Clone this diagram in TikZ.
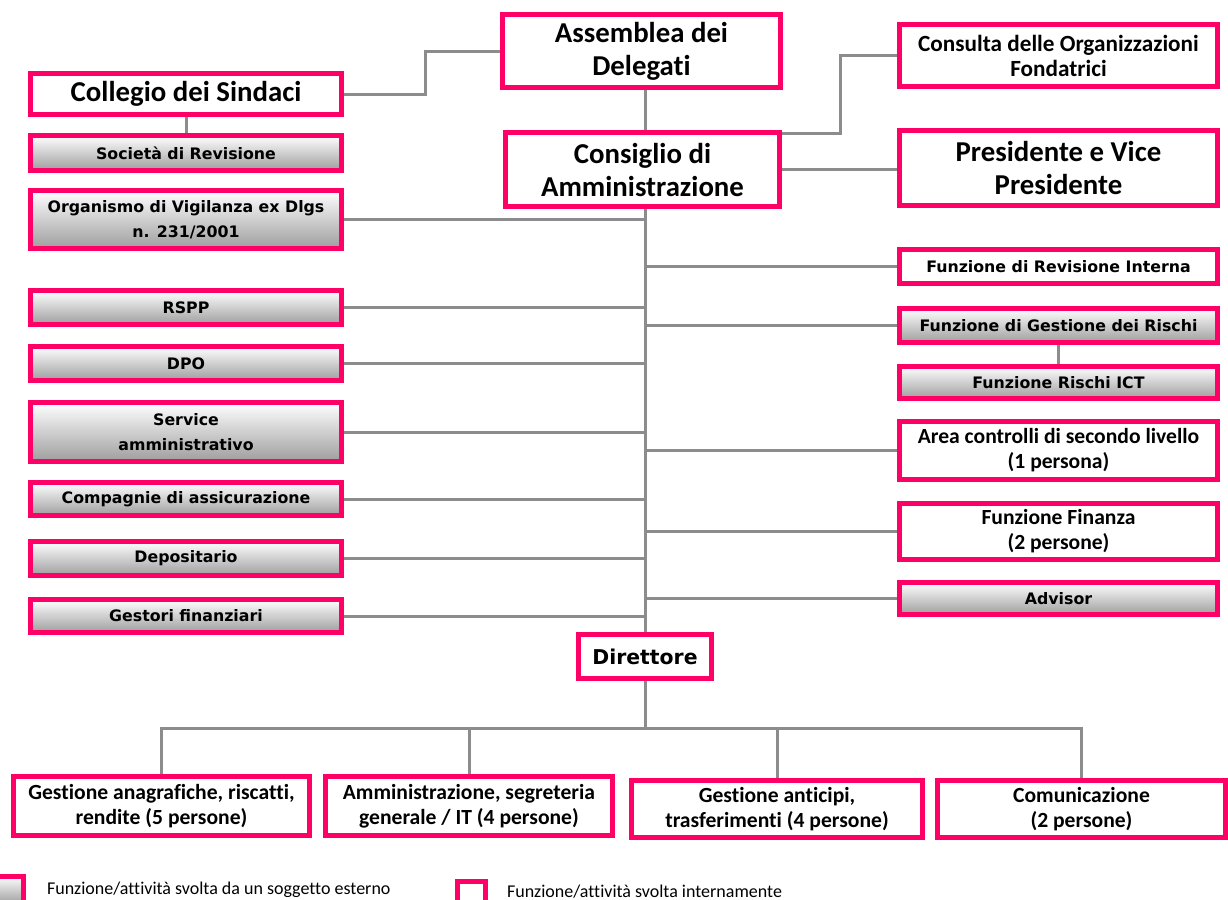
\documentclass[tikz,border=0pt]{standalone}
\usepackage{fontspec}
\newfontfamily\calfont[Ligatures=NoCommon]{Carlito}
\newfontfamily\tahfont{DejaVu Sans}
\definecolor{pinkc}{RGB}{255,0,102}
\definecolor{linec}{RGB}{140,140,140}
\tikzset{
  box/.style={draw=pinkc, line width=2.5pt, align=center, inner sep=1pt, text=black},
  intbox/.style={box, fill=white},
  extbox/.style={box, top color=white, bottom color=black!38},
  lcol/.style={minimum width=155.5pt},
  rcol/.style={minimum width=159pt},
  big/.style={font=\calfont\bfseries\fontsize{14.4}{16.5}\selectfont},
  mid/.style={font=\calfont\bfseries\fontsize{10.8}{12.5}\selectfont},
  small/.style={font=\tahfont\bfseries\fontsize{7.9}{12.5}\selectfont},
  link/.style={draw=linec, line width=1.5pt},
}
\begin{document}
\begin{tikzpicture}[x=0.5pt, y=-0.5pt]
    \useasboundingbox (0,0) rectangle (1228,900);

    % vertice
    \node[intbox, big, minimum width=139pt, minimum height=36.5pt] (asm) at (641.5,51) {Assemblea dei\\Delegati};
    \node[intbox, big, minimum width=137pt, minimum height=37pt] (cda) at (642.5,169.5) {Consiglio di\\Amministrazione};
    \node[intbox, big, lcol, minimum height=20.5pt] (col) at (186,94) {Collegio dei Sindaci};
    \node[extbox, small, lcol, minimum height=17.5pt] (soc) at (186,153) {Società di Revisione};
    \node[intbox, font=\calfont\bfseries\fontsize{11.6}{12.5}\selectfont, rcol, minimum height=31pt] (cons) at (1058.5,55.5) {Consulta delle Organizzazioni\\Fondatrici};
    \node[intbox, big, rcol, minimum height=37.5pt] (pres) at (1058.5,168) {Presidente e Vice\\Presidente};

    % colonna sinistra
    \node[extbox, small, lcol, minimum height=29pt] (odv) at (186,219.5) {Organismo di Vigilanza ex Dlgs\\n. 231/2001};
    \node[extbox, small, lcol, minimum height=17pt] (rspp) at (186,307.5) {RSPP};
    \node[extbox, small, lcol, minimum height=17pt] (dpo) at (186,363.5) {DPO};
    \node[extbox, small, lcol, minimum height=29.5pt] (serv) at (186,432) {Service\\amministrativo};
    \node[extbox, small, lcol, minimum height=16.5pt] (comp) at (186,499) {Compagnie di assicurazione};
    \node[extbox, small, lcol, minimum height=17pt] (dep) at (186,558.5) {Depositario};
    \node[extbox, small, lcol, minimum height=16.5pt] (gest) at (186,616) {Gestori finanziari};

    % colonna destra
    \node[intbox, small, rcol, minimum height=17pt] (rev) at (1058.5,266.5) {Funzione di Revisione Interna};
    \node[extbox, small, rcol, minimum height=17pt] (risk) at (1058.5,325.5) {Funzione di Gestione dei Rischi};
    \node[extbox, small, rcol, minimum height=16pt] (ict) at (1058.5,382.5) {Funzione Rischi ICT};
    \node[intbox, mid, rcol, minimum height=29pt] (area) at (1058.5,450.5) {Area controlli di secondo livello\\(1 persona)};
    \node[intbox, mid, rcol, minimum height=28pt] (fin) at (1058.5,531.5) {Funzione Finanza\\(2 persone)};
    \node[extbox, small, rcol, minimum height=16pt] (adv) at (1058.5,598.5) {Advisor};

    % direzione
    \node[intbox, font=\tahfont\bfseries\fontsize{10.2}{12}\selectfont, minimum width=66.5pt, minimum height=22pt] (dir) at (645,656.5) {Direttore};
    \node[intbox, mid, minimum width=148pt, minimum height=29.5pt] (uff1) at (161.5,806) {Gestione anagrafiche, riscatti,\\rendite (5 persone)};
    \node[intbox, mid, minimum width=143.5pt, minimum height=29.5pt] (uff2) at (469,806) {Amministrazione, segreteria\\generale / IT (4 persone)};
    \node[intbox, mid, minimum width=145.5pt, minimum height=28.5pt] (uff3) at (777,809) {Gestione anticipi,\\trasferimenti (4 persone)};
    \node[intbox, mid, minimum width=144pt, minimum height=28.5pt] (uff4) at (1081.5,809) {Comunicazione\\(2 persone)};

    % collegamenti
    \draw[link] (col.east) -- ++(81,0) |- (asm.west);
    \draw[link] (col.south) -- (soc.north);
    \draw[link] (asm.south -| dir.north) -- (cda.north -| dir.north);
    \draw[link] ([yshift=-1.5pt]cda.north east) -- ++(58,0) |- (cons.west);
    \draw[link] (cda.east) -- (cda.east -| pres.west);
    \draw[link] (cda.south -| dir.north) -- (dir.north);
    \foreach \n in {odv,rspp,dpo,serv,comp,dep,gest}
        \draw[link] (\n.east) -- (\n.east -| dir.north);
    \foreach \n in {rev,risk,area,fin,adv}
        \draw[link] (\n.west) -- ([xshift=1pt]\n.west -| dir.north);
    \draw[link] (risk.south) -- (ict.north);
    \draw[link] (dir.south) -- ++(0,47) coordinate (bus);
    \draw[link] (uff1.north) -- (uff1.north |- bus) -- (uff4.north |- bus) -- (uff4.north);
    \draw[link] (uff2.north) -- (uff2.north |- bus);
    \draw[link] (uff3.north) -- (uff3.north |- bus);

    % legenda
    \node[extbox, minimum width=15pt, minimum height=14pt] (lgext) at (8,890) {};
    \node[anchor=west, font=\calfont\fontsize{9}{11}\selectfont] (lgexttxt) at (40,890) {Funzione/attività svolta da un soggetto esterno};
    \node[intbox, minimum width=14pt, minimum height=12pt] (lgint) at (471.5,893) {};
    \node[anchor=west, font=\calfont\fontsize{9}{11}\selectfont] (lginttxt) at (500,892) {Funzione/attività svolta internamente};
\end{tikzpicture}
\end{document}
